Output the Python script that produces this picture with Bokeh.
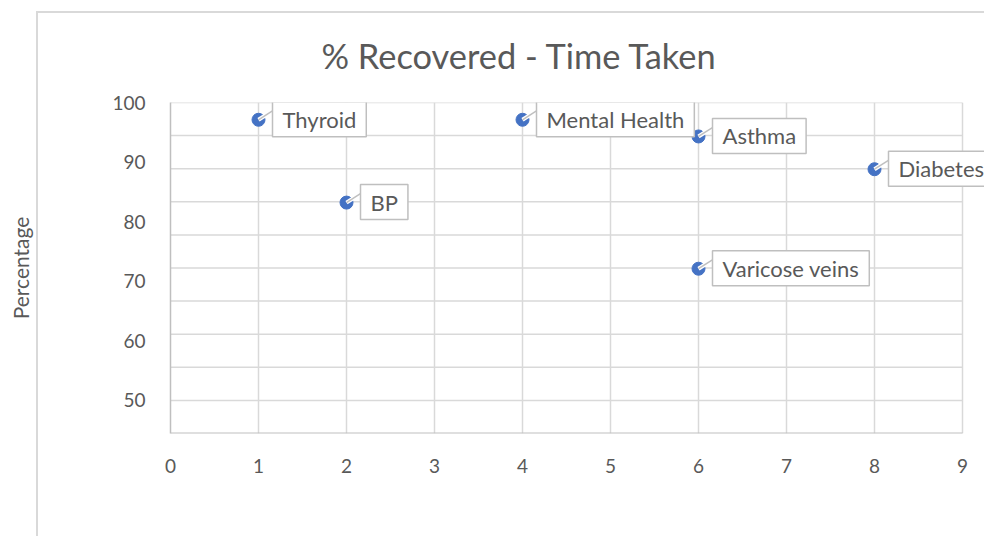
from bokeh.plotting import figure
from bokeh.models import Range1d, FixedTicker, Label
from bokeh.embed import file_html
from bokeh.resources import INLINE

# ---- data ----
conditions = ["Thyroid", "BP", "Mental Health", "Asthma", "Diabetes", "Varicose veins"]
time_taken = [1, 2, 4, 6, 8, 6]
pct_recovered = [97.1, 83.2, 97.1, 94.3, 88.8, 72.1]
y_tick_values = [50, 60, 70, 80, 90, 100]
x_tick_values = [0, 1, 2, 3, 4, 5, 6, 7, 8, 9]
x_min, x_max = 0, 9
y_min, y_max = 44.444, 100.0
y_grid_step = 5.5556
y_grid_values = [y_min + y_grid_step * k for k in range(1, 11)]

FONT = "Lato"
TXT = "#595959"
GRID = "#d9d9d9"
AXIS = "#bfbfbf"

p = figure(width=984, height=536, output_backend="svg", toolbar_location=None,
           x_range=Range1d(x_min, x_max + 0.25), y_range=Range1d(y_min, y_max),
           min_border_left=170, min_border_right=0, min_border_top=102, min_border_bottom=103)
p.outline_line_color = None
p.background_fill_color = "white"
p.border_fill_color = None
# chart-area border (Excel chart frame), drawn behind the transparent canvas
p.styles = {
    "background": (f"linear-gradient({GRID},{GRID}) 36px 11px / 2px 100% no-repeat, "
                   f"linear-gradient({GRID},{GRID}) 36px 11px / 100% 2px no-repeat, white")
}

# title
p.title.text = "% Recovered - Time Taken"
p.title.text_font = FONT
p.title.text_font_size = "34.4px"
p.title.text_font_style = "normal"
p.title.text_color = TXT
p.title.align = "left"
p.title.offset = 151
p.title.standoff = 53

# grid
p.xgrid.ticker = FixedTicker(ticks=x_tick_values)
p.xgrid.grid_line_color = GRID
p.xgrid.grid_line_width = 1.5
p.ygrid.grid_line_color = None
p.segment(x0=x_min, y0=y_grid_values, x1=x_max, y1=y_grid_values,
          line_color=GRID, line_width=1.5)
p.segment(x0=[x_min], y0=[y_min], x1=[x_max], y1=[y_min], line_color=AXIS, line_width=2)

# axes
for ax in (p.xaxis, p.yaxis):
    ax.major_tick_line_color = None
    ax.minor_tick_line_color = None
    ax.major_label_text_font = FONT
    ax.major_label_text_font_size = "19px"
    ax.major_label_text_color = TXT
p.xaxis.axis_line_color = None
p.yaxis.axis_line_color = AXIS
p.yaxis.axis_line_width = 1.5
p.xaxis.ticker = FixedTicker(ticks=x_tick_values)
p.yaxis.ticker = FixedTicker(ticks=y_tick_values)
p.xaxis.major_label_standoff = 19
p.yaxis.major_label_standoff = 19

p.yaxis.axis_label = "Percentage"
p.yaxis.axis_label_text_font = FONT
p.yaxis.axis_label_text_font_size = "21px"
p.yaxis.axis_label_text_font_style = "normal"
p.yaxis.axis_label_text_color = TXT
p.yaxis.axis_label_standoff = 76

# points
p.scatter(time_taken, pct_recovered, size=13, color="#4472C4")
# callout leaders
p.ray(time_taken, pct_recovered, length=17, length_units="screen", angle=0.57,
      line_color="white", line_width=4)
p.ray(time_taken, pct_recovered, length=17, length_units="screen", angle=0.57,
      line_color=AXIS, line_width=1.5)

# callout labels
for name, xv, yv in zip(conditions, time_taken, pct_recovered):
    p.add_layout(Label(x=xv, y=yv, text=name, x_offset=14, y_offset=18,
                       anchor="top_left", padding=(10, 10, 4, 4),
                       text_font=FONT, text_font_size="22px", text_color=TXT,
                       background_fill_color="white", border_line_color=AXIS,
                       border_line_width=1.5))

open("out.html", "w").write(file_html(p, INLINE))
